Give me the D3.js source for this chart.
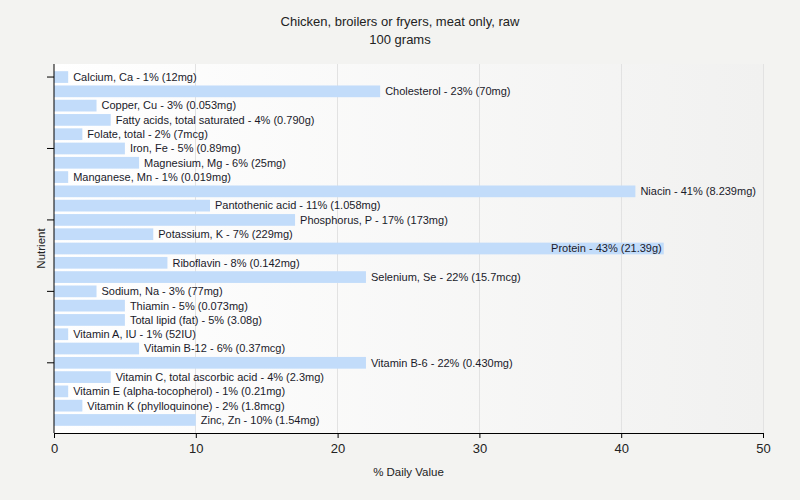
<!DOCTYPE html>
<html><head><meta charset="utf-8">
<script src="https://cdn.jsdelivr.net/npm/d3@7"></script>
<style>body{margin:0;background:#f3f3f1;}svg{display:block;}</style>
</head><body>
<script>
const nutrients = ["Calcium, Ca","Cholesterol","Copper, Cu","Fatty acids, total saturated","Folate, total","Iron, Fe","Magnesium, Mg","Manganese, Mn","Niacin","Pantothenic acid","Phosphorus, P","Potassium, K","Protein","Riboflavin","Selenium, Se","Sodium, Na","Thiamin","Total lipid (fat)","Vitamin A, IU","Vitamin B-12","Vitamin B-6","Vitamin C, total ascorbic acid","Vitamin E (alpha-tocopherol)","Vitamin K (phylloquinone)","Zinc, Zn"];
const percents = [1,23,3,4,2,5,6,1,41,11,17,7,43,8,22,3,5,5,1,6,22,4,1,2,10];
const amounts = ["12mg","70mg","0.053mg","0.790g","7mcg","0.89mg","25mg","0.019mg","8.239mg","1.058mg","173mg","229mg","21.39g","0.142mg","15.7mcg","77mg","0.073mg","3.08g","52IU","0.37mcg","0.430mg","2.3mg","0.21mg","1.8mcg","1.54mg"];
const xTicks = [0,10,20,30,40,50];
const title1 = "Chicken, broilers or fryers, meat only, raw";
const title2 = "100 grams";

const W=800,H=500, L=54,R=763,T=64,B=433;
const svg=d3.select("body").append("svg").attr("width",W).attr("height",H);
const defs=svg.append("defs");
const g1=defs.append("linearGradient").attr("id","bg").attr("x1",0).attr("x2",1).attr("y1",0).attr("y2",0);
g1.append("stop").attr("offset",0).attr("stop-color","#ffffff");
g1.append("stop").attr("offset",1).attr("stop-color","#f1f1f0");
svg.append("rect").attr("width",W).attr("height",H).attr("fill","#f3f3f1");
svg.append("rect").attr("x",L).attr("y",T).attr("width",R-L).attr("height",B-T).attr("fill","url(#bg)");

const x=d3.scaleLinear().domain([0,50]).range([L,R]);
const y=d3.scaleBand().domain(nutrients).range([T+5.9,B-5.9]).paddingInner(0.18).paddingOuter(0.09);

svg.append("g").selectAll("line").data(xTicks.slice(1)).join("line")
 .attr("x1",d=>x(d)).attr("x2",d=>x(d)).attr("y1",T).attr("y2",B)
 .attr("stroke","#e2e2e2").attr("stroke-width",1).attr("shape-rendering","crispEdges");

const data=nutrients.map((n,i)=>({n,p:percents[i],a:amounts[i]}));
svg.append("g").selectAll("rect").data(data).join("rect")
 .attr("x",x(0)).attr("y",d=>y(d.n)).attr("width",d=>x(d.p)-x(0)).attr("height",y.bandwidth())
 .attr("fill","#c2dcfa");

const font="'Liberation Sans', Arial, sans-serif";
const lbl=svg.append("g").selectAll("text").data(data).join("text")
 .attr("y",d=>y(d.n)+y.bandwidth()/2).attr("dy","0.35em")
 .attr("font-family",font).attr("font-size",11).attr("fill","#1a1a2a")
 .text(d=>`${d.n} - ${d.p}% (${d.a})`);
lbl.each(function(d){
  const w=this.getComputedTextLength();
  const xe=x(d.p);
  if(xe+5+w>R){ d3.select(this).attr("x",xe-2).attr("text-anchor","end"); }
  else { d3.select(this).attr("x",xe+5); }
});

// axes
const xa=svg.append("g").attr("transform",`translate(0,${B})`)
 .call(d3.axisBottom(x).tickValues(xTicks).tickSize(5).tickSizeOuter(0));
xa.select(".domain").attr("stroke","#000");
xa.selectAll("text").attr("font-family",font).attr("font-size",13).attr("fill","#222").attr("dy","0.9em");
const yTickCats=nutrients.filter((d,i)=>i%5===0);
const ya=svg.append("g").attr("transform",`translate(${L},0)`)
 .call(d3.axisLeft(y).tickValues(yTickCats).tickSize(7).tickFormat("").tickSizeOuter(0));
ya.select(".domain").attr("d",`M0,${T}V${B}`).attr("stroke","#000");

svg.append("text").attr("x",400).attr("y",26).attr("text-anchor","middle")
 .attr("font-family",font).attr("font-size",13).attr("fill","#222").text(title1);
svg.append("text").attr("x",400).attr("y",44).attr("text-anchor","middle")
 .attr("font-family",font).attr("font-size",13).attr("fill","#222").text(title2);
svg.append("text").attr("x",(L+R)/2).attr("y",476).attr("text-anchor","middle")
 .attr("font-family",font).attr("font-size",11.5).attr("fill","#222").text("% Daily Value");
svg.append("text").attr("transform",`translate(45,${(T+B)/2}) rotate(-90)`).attr("text-anchor","middle")
 .attr("font-family",font).attr("font-size",11.5).attr("fill","#222").text("Nutrient");
</script>
</body></html>
